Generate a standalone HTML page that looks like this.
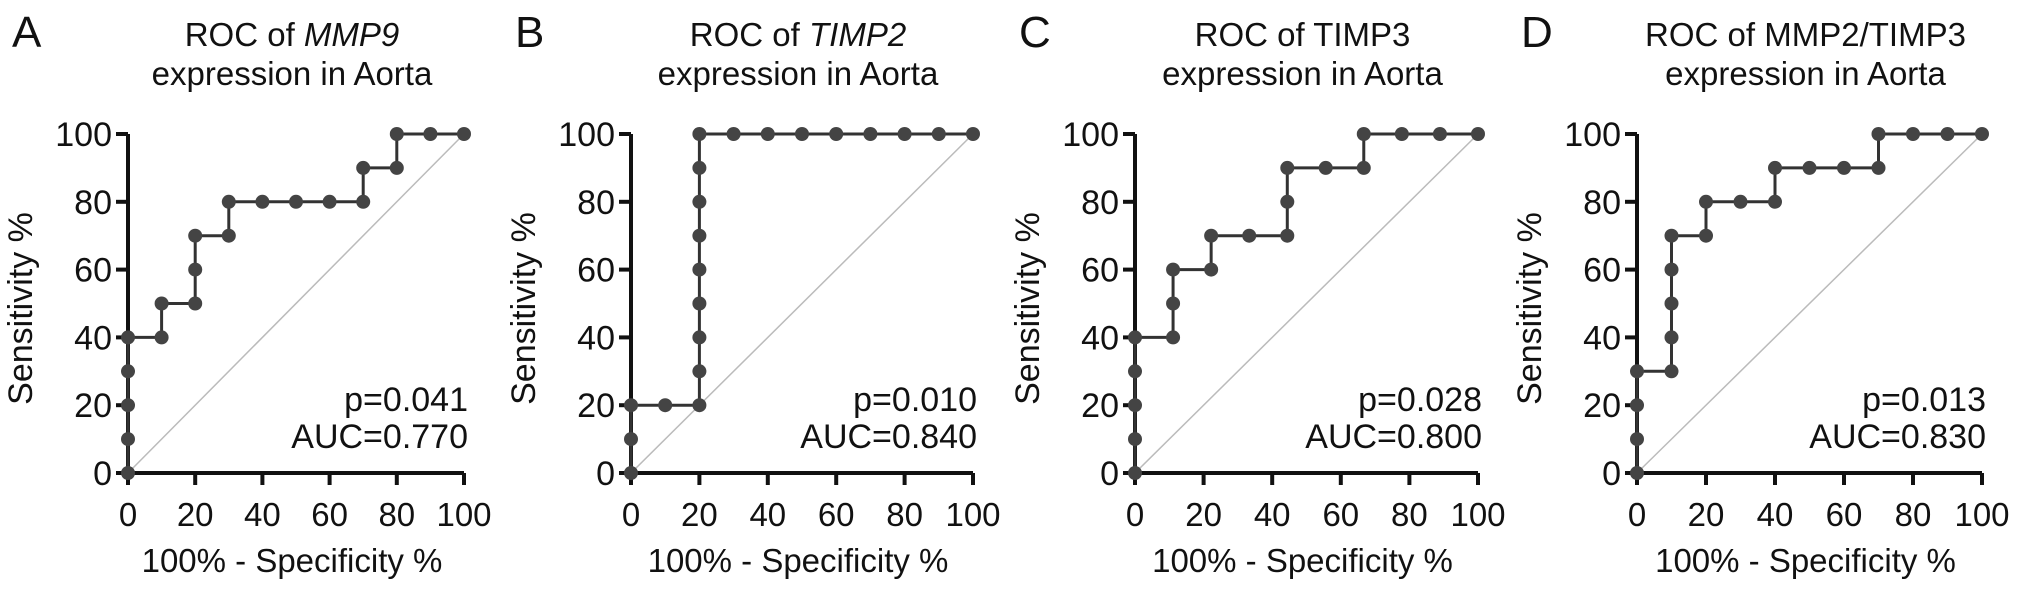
<!DOCTYPE html>
<html><head><meta charset="utf-8"><style>
body{margin:0;background:#fff}
svg{display:block;font-family:"Liberation Sans",Arial,sans-serif}
</style></head><body>
<svg id="fig" width="2032" height="589" viewBox="0 0 2032 589" xmlns="http://www.w3.org/2000/svg"></svg>
<script>
const xTicks=[0,20,40,60,80,100];
const yTicks=[0,20,40,60,80,100];
const aX=[0,0,0,0,0,10,10,20,20,20,30,30,40,50,60,70,70,80,80,90,100];
const aY=[0,10,20,30,40,40,50,50,60,70,70,80,80,80,80,80,90,90,100,100,100];
const bX=[0,0,0,10,20,20,20,20,20,20,20,20,20,30,40,50,60,70,80,90,100];
const bY=[0,10,20,20,20,30,40,50,60,70,80,90,100,100,100,100,100,100,100,100,100];
const cX=[0,0,0,0,0,11.1,11.1,11.1,22.2,22.2,33.3,44.4,44.4,44.4,55.6,66.7,66.7,77.8,88.9,100];
const cY=[0,10,20,30,40,40,50,60,60,70,70,70,80,90,90,90,100,100,100,100];
const dX=[0,0,0,0,10,10,10,10,10,20,20,30,40,40,50,60,70,70,80,90,100];
const dY=[0,10,20,30,30,40,50,60,70,70,80,80,80,90,90,90,90,100,100,100,100];
const pVals=["p=0.041","p=0.010","p=0.028","p=0.013"];
const aucVals=["AUC=0.770","AUC=0.840","AUC=0.800","AUC=0.830"];
const panels=[
 {id:"a",L:"A",t1:["ROC of ","MMP9",true],x0:128,x1:464,xs:aX,ys:aY},
 {id:"b",L:"B",t1:["ROC of ","TIMP2",true],x0:631,x1:973,xs:bX,ys:bY},
 {id:"c",L:"C",t1:["ROC of TIMP3","",false],x0:1135,x1:1478,xs:cX,ys:cY},
 {id:"d",L:"D",t1:["ROC of MMP2/TIMP3","",false],x0:1637,x1:1982,xs:dX,ys:dY}
];
const Y0=473,Y1=134;
const NS="http://www.w3.org/2000/svg";
const svg=document.getElementById('fig');
function mk(tag,at,parent){const e=document.createElementNS(NS,tag);for(const k in at)e.setAttribute(k,at[k]);(parent||svg).appendChild(e);return e;}
panels.forEach((p,i)=>{
 const g=mk('g',{});
 
 
 const sx=v=>p.x0+(p.x1-p.x0)*v/100;
 const sy=v=>Y0-(Y0-Y1)*v/100;
 const cx=(p.x0+p.x1)/2-4;
 const lt=mk('text',{x:p.x0-116,y:47,'font-size':44,fill:'#111'},g);lt.textContent=p.L;
 
 
 const t1=mk('text',{x:cx,y:46,'font-size':33,'text-anchor':'middle',fill:'#111'},g);
 
 
 const s1=mk('tspan',{},t1);s1.textContent=p.t1[0];
 if(p.t1[1]){const s2=mk('tspan',{'font-style':'italic'},t1);s2.textContent=p.t1[1];}
 const t2=mk('text',{x:cx,y:85,'font-size':33,'text-anchor':'middle',fill:'#111'},g);t2.textContent="expression in Aorta";
 
 
 const dg=mk('line',{x1:sx(0),y1:sy(0),x2:sx(100),y2:sy(100),stroke:'#bbb','stroke-width':1.5},g);
 
 
 const ax=mk('path',{d:`M${sx(0)} ${Y1} V${Y0} H${sx(100)}`,fill:'none',stroke:'#111','stroke-width':4},g);
 
 
 xTicks.forEach(v=>{
  mk('line',{x1:sx(v),y1:Y0,x2:sx(v),y2:Y0+12,stroke:'#111','stroke-width':4},g);
  const t=mk('text',{x:sx(v),y:Y0+53,'font-size':33,'text-anchor':'middle',fill:'#111'},g);t.textContent=v;
  
  
 });
 yTicks.forEach(v=>{
  mk('line',{x1:sx(0)-12,y1:sy(v),x2:sx(0),y2:sy(v),stroke:'#111','stroke-width':4},g);
  const t=mk('text',{x:sx(0)-16,y:sy(v)+12,'font-size':34,'text-anchor':'end',fill:'#111'},g);t.textContent=v;
  
  
 });
 const xt=mk('text',{x:cx,y:572,'font-size':33,'text-anchor':'middle',fill:'#111'},g);xt.textContent="100% - Specificity %";
 
 
 const yx=p.x0-96,yy=(Y0+Y1)/2+5;
 const yt=mk('text',{x:yx,y:yy,'font-size':34,'text-anchor':'middle',fill:'#111',transform:`rotate(-90 ${yx} ${yy})`},g);yt.textContent="Sensitivity %";
 
 
 let d='';p.xs.forEach((v,k)=>{d+=(k?'L':'M')+sx(v)+' '+sy(p.ys[k]);});
 const ln=mk('path',{d:d,fill:'none',stroke:'#333','stroke-width':3},g);
 
 
 p.xs.forEach((v,k)=>{
  const c=mk('circle',{cx:sx(v),cy:sy(p.ys[k]),r:7,fill:'#444'},g);
  
  
 });
 const pt=mk('text',{x:sx(100)+4,y:411,'font-size':34,'text-anchor':'end',fill:'#111'},g);pt.textContent=pVals[i];
 
 
 const at=mk('text',{x:sx(100)+4,y:448,'font-size':34,'text-anchor':'end',fill:'#111'},g);at.textContent=aucVals[i];
 
 
});
</script>
</body></html>
